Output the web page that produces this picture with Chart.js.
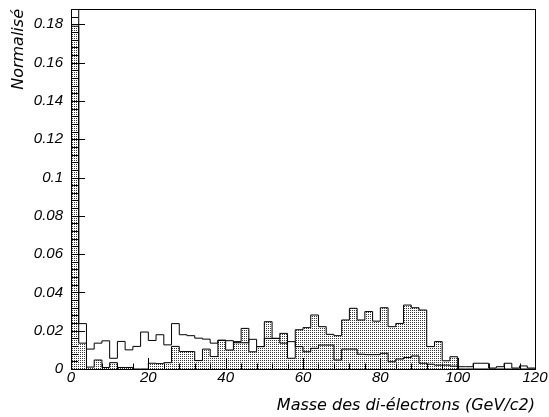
<!DOCTYPE html>
<html>
<head>
<meta charset="utf-8">
<script src="https://cdn.jsdelivr.net/npm/chart.js@4/dist/chart.umd.min.js"></script>
<style>
  html, body { margin: 0; padding: 0; background: #fff; }
  #wrap { width: 549px; height: 417px; }
</style>
</head>
<body>
<div id="wrap"><canvas id="massChart" width="549" height="417"></canvas></div>
<script>
// binning of the histograms (GeV/c2)
const xMin = 0;
const xMax = 120;
const nBins = 60;

// filled (stippled) histogram, one value per 2 GeV bin
const filledValues = [
  0.179, 0.0135, 0.0010, 0.0047, 0.0008, 0.0033, 0.0008, 0.0008, 0.0000, 0.0000,
  0.0030, 0.0028, 0.0033, 0.0118, 0.0091, 0.0091, 0.0044, 0.0104, 0.0065, 0.0150,
  0.0099, 0.0143, 0.0212, 0.0090, 0.0117, 0.0247, 0.0160, 0.0186, 0.0056, 0.0205,
  0.0216, 0.0282, 0.0221, 0.0181, 0.0174, 0.0256, 0.0317, 0.0256, 0.0300, 0.0250,
  0.0320, 0.0221, 0.0238, 0.0334, 0.0320, 0.0308, 0.0117, 0.0143, 0.0043, 0.0064,
  0.0000, 0.0000, 0.0000, 0.0000, 0.0000, 0.0000, 0.0000, 0.0000, 0.0000, 0.0000
];

// outline histogram (first bin goes off the top of the frame)
const outlineValues = [
  0.2500, 0.0237, 0.0104, 0.0135, 0.0147, 0.0056, 0.0144, 0.0100, 0.0118, 0.0193,
  0.0149, 0.0179, 0.0126, 0.0237, 0.0179, 0.0174, 0.0161, 0.0156, 0.0135, 0.0150,
  0.0148, 0.0137, 0.0137, 0.0155, 0.0117, 0.0160, 0.0160, 0.0135, 0.0143, 0.0117,
  0.0090, 0.0108, 0.0125, 0.0125, 0.0047, 0.0104, 0.0104, 0.0077, 0.0075, 0.0075,
  0.0082, 0.0038, 0.0052, 0.0060, 0.0068, 0.0030, 0.0025, 0.0020, 0.0020, 0.0015,
  0.0012, 0.0012, 0.0030, 0.0030, 0.0005, 0.0012, 0.0030, 0.0005, 0.0016, 0.0005
];

// axis ticks
const xTicks = [0, 20, 40, 60, 80, 100, 120];
const yTicks = [0, 0.02, 0.04, 0.06, 0.08, 0.1, 0.12, 0.14, 0.16, 0.18];
const yMax = 0.188;

const xTitle = 'Masse des di-électrons (GeV/c2)';
const yTitle = 'Normalisé';

document.addEventListener("DOMContentLoaded", function () {
    const binWidth = (xMax - xMin) / nBins;

    // points on the low edge of each bin, plus the closing edge
    const histPoints = (values) => {
        const pts = values.map((v, i) => ({ x: xMin + i * binWidth, y: v }));
        pts.push({ x: xMax, y: values[values.length - 1] });
        return pts;
    };

    // stipple pattern like ROOT fill style
    const makePattern = () => {
        const tile = document.createElement('canvas');
        tile.width = 2;
        tile.height = 2;
        const t = tile.getContext('2d');
        t.fillStyle = '#ffffff';
        t.fillRect(0, 0, 2, 2);
        t.fillStyle = '#3a3a3a';
        t.fillRect(0, 0, 1, 1);
        return document.getElementById('massChart').getContext('2d').createPattern(tile, 'repeat');
    };

    // inward ROOT-style ticks and the frame
    const rootFrame = {
        id: 'rootFrame',
        afterDatasetsDraw(chart) {
            const ctx = chart.ctx;
            const a = chart.chartArea;
            const xs = chart.scales.x;
            const ys = chart.scales.y;
            ctx.save();
            ctx.strokeStyle = '#000';
            ctx.lineWidth = 1;
            ctx.beginPath();
            for (let v = xMin; v <= xMax + 1e-9; v += 4) {
                const px = Math.round(xs.getPixelForValue(v)) + 0.5;
                const len = (v % 20 === 0) ? 11 : 5.5;
                ctx.moveTo(px, a.bottom);
                ctx.lineTo(px, a.bottom - len);
            }
            for (let k = 0; k * 0.004 <= yMax; k++) {
                const py = Math.round(ys.getPixelForValue(k * 0.004)) + 0.5;
                const len = (k % 5 === 0) ? 14 : 7;
                ctx.moveTo(a.left, py);
                ctx.lineTo(a.left + len, py);
            }
            ctx.stroke();
            ctx.strokeRect(Math.round(a.left) + 0.5, Math.round(a.top) + 0.5,
                Math.round(a.right - a.left), Math.round(a.bottom - a.top));
            ctx.restore();
        }
    };

    const tickFont = { family: 'Liberation Sans', size: 15, style: 'italic' };
    const titleFont = { family: 'DejaVu Sans', size: 16, style: 'italic' };

    new Chart(document.getElementById('massChart'), {
        type: 'line',
        data: {
            datasets: [{
                label: 'outline',
                data: histPoints(outlineValues),
                borderColor: '#000000',
                borderWidth: 1,
                fill: false,
                stepped: true,
                pointRadius: 0,
                order: 1
            }, {
                label: 'filled',
                data: histPoints(filledValues),
                borderColor: '#000000',
                backgroundColor: makePattern(),
                borderWidth: 1,
                fill: 'origin',
                stepped: true,
                pointRadius: 0,
                order: 2
            }]
        },
        options: {
            responsive: false,
            devicePixelRatio: 1,
            animation: false,
            layout: { padding: { top: 9, right: 14, left: 0, bottom: 0 } },
            plugins: {
                legend: { display: false },
                tooltip: { enabled: false }
            },
            scales: {
                x: {
                    type: 'linear',
                    min: xMin,
                    max: xMax,
                    grid: { display: false, drawTicks: false },
                    border: { display: false },
                    afterBuildTicks: (s) => { s.ticks = xTicks.map(v => ({ value: v })); },
                    afterFit: (s) => { s.height = 48; },
                    ticks: {
                        font: tickFont,
                        color: '#000',
                        padding: 0,
                        maxRotation: 0,
                        callback: (v) => String(v)
                    },
                    title: {
                        display: true,
                        text: xTitle,
                        align: 'end',
                        color: '#000',
                        font: titleFont,
                        padding: { top: 0, bottom: 2 }
                    }
                },
                y: {
                    type: 'linear',
                    min: 0,
                    max: yMax,
                    grid: { display: false, drawTicks: false },
                    border: { display: false },
                    afterBuildTicks: (s) => { s.ticks = yTicks.map(v => ({ value: v })); },
                    afterFit: (s) => {
                        s.width = 71;
                        s.paddingTop = 0;
                        s.paddingBottom = 0;
                    },
                    ticks: {
                        font: tickFont,
                        color: '#000',
                        padding: 8,
                        callback: (v) => String(+v.toFixed(3))
                    },
                    title: {
                        display: true,
                        text: yTitle,
                        align: 'end',
                        color: '#000',
                        font: titleFont,
                        padding: { top: 9, bottom: 0 }
                    }
                }
            }
        },
        plugins: [rootFrame]
    });
});
</script>
</body>
</html>
